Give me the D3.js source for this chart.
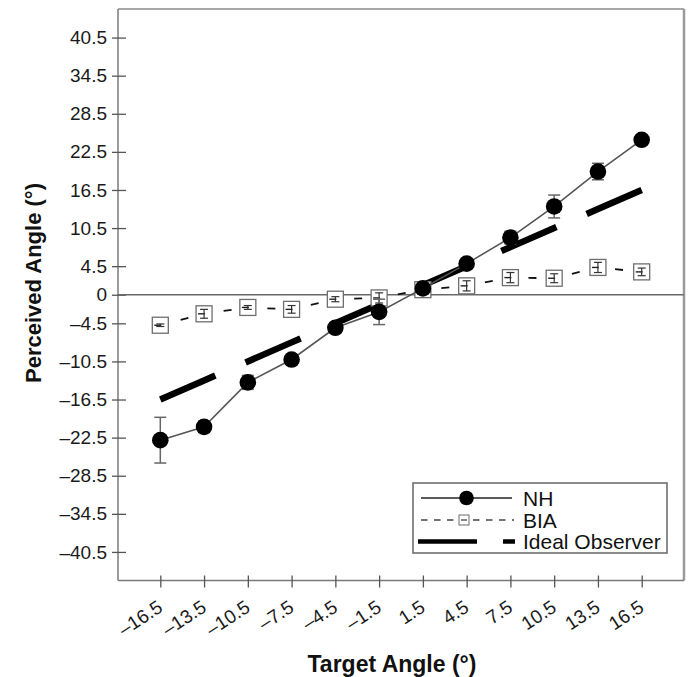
<!DOCTYPE html>
<html>
<head>
<meta charset="utf-8">
<script src="https://cdn.jsdelivr.net/npm/d3@7"></script>
<style>
  html, body { margin: 0; padding: 0; background: #fff; }
  svg { display: block; font-family: "Liberation Sans", Arial, Helvetica, sans-serif; }
  .tick text { font-family: "Liberation Sans", Arial, sans-serif; font-size: 19px; fill: #1a1a1a; }
</style>
</head>
<body>
<svg id="chart" width="690" height="677"></svg>
<script>
// Target angles (degrees) presented on each trial
const targets = [-16.5, -13.5, -10.5, -7.5, -4.5, -1.5, 1.5, 4.5, 7.5, 10.5, 13.5, 16.5];

// Normal-hearing group: mean perceived angle and error
const nhMean = [-22.9, -20.8, -13.8, -10.2, -5.2, -2.7, 1.0, 4.9, 9.0, 13.9, 19.4, 24.4];
const nhErr  = [3.6, 0.9, 1.1, 0.5, 0.5, 2.0, 0.5, 0.6, 1.0, 1.8, 1.3, 0.5];

// Bilateral implant group: mean perceived angle and error
const biaMean = [-4.8, -3.0, -2.0, -2.3, -0.7, -0.5, 0.8, 1.4, 2.7, 2.6, 4.3, 3.6];
const biaErr  = [0.2, 0.7, 0.3, 0.6, 0.4, 0.8, 0.5, 0.8, 0.8, 0.7, 0.8, 0.6];

// Ideal observer reports the target angle exactly
const idealMean = [-16.5, -13.5, -10.5, -7.5, -4.5, -1.5, 1.5, 4.5, 7.5, 10.5, 13.5, 16.5];

// Axis ticks
const xTicks = [-16.5, -13.5, -10.5, -7.5, -4.5, -1.5, 1.5, 4.5, 7.5, 10.5, 13.5, 16.5];
const yTicks = [40.5, 34.5, 28.5, 22.5, 16.5, 10.5, 4.5, 0, -4.5, -10.5, -16.5, -22.5, -28.5, -34.5, -40.5];

const legendLabels = ["NH", "BIA", "Ideal Observer"];

const fmt = v => (v < 0 ? "\u2013" + Math.abs(v) : String(v));

const svg = d3.select("#chart");
const plotL = 118, plotR = 684, plotT = 9, plotB = 580.5;

const x = d3.scaleLinear().domain([-19.4, 19.4]).range([plotL, plotR]);
const y = d3.scaleLinear().domain([-45, 45]).range([plotB, plotT]);

const axisColor = "#7a7a7a";

// Frame (top and right borders)
svg.append("line").attr("x1", plotL).attr("x2", plotR).attr("y1", plotT).attr("y2", plotT)
  .attr("stroke", "#8a8a8a").attr("stroke-width", 1.5);
svg.append("line").attr("x1", plotR).attr("x2", plotR).attr("y1", plotT).attr("y2", plotB)
  .attr("stroke", "#9a9a9a").attr("stroke-width", 2.5);

// Y axis
const gy = svg.append("g").attr("transform", `translate(${plotL},0)`)
  .call(d3.axisLeft(y).tickValues(yTicks).tickFormat(fmt).tickSizeOuter(0));
gy.select(".domain").attr("stroke", axisColor).attr("stroke-width", 1.5)
  .attr("d", `M0,${plotT}V${plotB}`);
gy.selectAll(".tick line").attr("x1", -6).attr("x2", 8).attr("stroke", "#555").attr("stroke-width", 1.3);
gy.selectAll(".tick text").attr("x", -11);

// X axis
const gx = svg.append("g").attr("transform", `translate(0,${plotB})`)
  .call(d3.axisBottom(x).tickValues(xTicks).tickFormat(fmt).tickSizeOuter(0));
gx.select(".domain").attr("stroke", axisColor).attr("stroke-width", 1.5)
  .attr("d", `M${plotL},0H${plotR}`);
gx.selectAll(".tick line").attr("y1", -5).attr("y2", 7).attr("stroke", "#555").attr("stroke-width", 1.3);
gx.selectAll(".tick text")
  .attr("y", null).attr("dy", null)
  .attr("text-anchor", "end")
  .attr("transform", "translate(3,30) rotate(-33)");

// Zero reference line
svg.append("line").attr("x1", plotL).attr("x2", plotR).attr("y1", y(0)).attr("y2", y(0))
  .attr("stroke", "#6a6a6a").attr("stroke-width", 1.3);

// Ideal observer: thick long-dash line
const line = d3.line().x(d => x(d[0])).y(d => y(d[1]));
svg.append("path")
  .attr("d", line(targets.map((t, i) => [t, idealMean[i]])))
  .attr("fill", "none").attr("stroke", "#000").attr("stroke-width", 6.5)
  .attr("stroke-dasharray", "60,33").attr("stroke-linecap", "butt");

// BIA: dashed line, error bars, open squares
svg.append("path")
  .attr("d", line(targets.map((t, i) => [t, biaMean[i]])))
  .attr("fill", "none").attr("stroke", "#111").attr("stroke-width", 1.8)
  .attr("stroke-dasharray", "8,36").attr("stroke-dashoffset", 23);

const bia = svg.append("g");
const sq = 16;
bia.selectAll("rect").data(targets).join("rect")
  .attr("x", d => x(d) - sq / 2).attr("y", (d, i) => y(biaMean[i]) - sq / 2)
  .attr("width", sq).attr("height", sq)
  .attr("fill", "#fff").attr("stroke", "#6e6e6e").attr("stroke-width", 1.3);
// centre tick of the dashed line inside each marker
bia.selectAll("line.mid").data(targets).join("line").attr("class", "mid")
  .attr("x1", d => x(d) - 6).attr("x2", d => x(d) + 1)
  .attr("y1", (d, i) => y(biaMean[i])).attr("y2", (d, i) => y(biaMean[i]))
  .attr("stroke", "#222").attr("stroke-width", 1.4);
const biaEb = bia.selectAll("g.eb").data(targets).join("g").attr("class", "eb");
biaEb.append("line")
  .attr("x1", d => x(d)).attr("x2", d => x(d))
  .attr("y1", (d, i) => y(biaMean[i] + biaErr[i])).attr("y2", (d, i) => y(biaMean[i] - biaErr[i]))
  .attr("stroke", "#333").attr("stroke-width", 1.2);
biaEb.append("line")
  .attr("x1", d => x(d) - 4).attr("x2", d => x(d) + 4)
  .attr("y1", (d, i) => y(biaMean[i] + biaErr[i])).attr("y2", (d, i) => y(biaMean[i] + biaErr[i]))
  .attr("stroke", "#333").attr("stroke-width", 1.2);
biaEb.append("line")
  .attr("x1", d => x(d) - 4).attr("x2", d => x(d) + 4)
  .attr("y1", (d, i) => y(biaMean[i] - biaErr[i])).attr("y2", (d, i) => y(biaMean[i] - biaErr[i]))
  .attr("stroke", "#333").attr("stroke-width", 1.2);

// NH: solid line, error bars, filled circles
svg.append("path")
  .attr("d", line(targets.map((t, i) => [t, nhMean[i]])))
  .attr("fill", "none").attr("stroke", "#555").attr("stroke-width", 1.6);

const nhEb = svg.append("g").selectAll("g").data(targets).join("g");
nhEb.append("line")
  .attr("x1", d => x(d)).attr("x2", d => x(d))
  .attr("y1", (d, i) => y(nhMean[i] + nhErr[i])).attr("y2", (d, i) => y(nhMean[i] - nhErr[i]))
  .attr("stroke", "#666").attr("stroke-width", 1.5);
[1, -1].forEach(s => {
  nhEb.append("line")
    .attr("x1", d => x(d) - 6).attr("x2", d => x(d) + 6)
    .attr("y1", (d, i) => y(nhMean[i] + s * nhErr[i])).attr("y2", (d, i) => y(nhMean[i] + s * nhErr[i]))
    .attr("stroke", "#666").attr("stroke-width", 1.5);
});
svg.append("g").selectAll("circle").data(targets).join("circle")
  .attr("cx", d => x(d)).attr("cy", (d, i) => y(nhMean[i])).attr("r", 8.3)
  .attr("fill", "#000");

// Legend
const lg = svg.append("g");
lg.append("rect").attr("x", 413).attr("y", 483).attr("width", 254).attr("height", 70)
  .attr("fill", "#fff").attr("stroke", "#666").attr("stroke-width", 1.5);
const rows = [498, 520, 541.5];
// NH sample
lg.append("line").attr("x1", 421).attr("x2", 512).attr("y1", rows[0]).attr("y2", rows[0])
  .attr("stroke", "#222").attr("stroke-width", 1.5);
lg.append("circle").attr("cx", 466.5).attr("cy", rows[0]).attr("r", 7.3).attr("fill", "#000");
// BIA sample
lg.append("line").attr("x1", 421).attr("x2", 514).attr("y1", rows[1]).attr("y2", rows[1])
  .attr("stroke", "#444").attr("stroke-width", 1.3).attr("stroke-dasharray", "6.5,6.5");
lg.append("rect").attr("x", 459).attr("y", rows[1] - 5).attr("width", 10).attr("height", 10)
  .attr("fill", "#fff").attr("stroke", "#777").attr("stroke-width", 1.1);
lg.append("line").attr("x1", 461).attr("x2", 467).attr("y1", rows[1]).attr("y2", rows[1])
  .attr("stroke", "#333").attr("stroke-width", 1.2);
// Ideal observer sample
lg.append("line").attr("x1", 418).attr("x2", 515).attr("y1", rows[2]).attr("y2", rows[2])
  .attr("stroke", "#000").attr("stroke-width", 4.5).attr("stroke-dasharray", "59,26");
lg.selectAll("text").data(legendLabels).join("text")
  .attr("x", 523).attr("y", (d, i) => rows[i]).attr("dy", "0.36em")
  .style("font-size", "21px").attr("fill", "#111").text(d => d);

// Axis titles
svg.append("text").attr("x", 392).attr("y", 672).attr("text-anchor", "middle")
  .style("font-size", "23px").attr("font-weight", "bold").attr("fill", "#111")
  .text("Target Angle (°)");
svg.append("text").attr("transform", "translate(41,283) rotate(-90)").attr("text-anchor", "middle")
  .style("font-size", "22px").attr("font-weight", "bold").attr("fill", "#111")
  .text("Perceived Angle (°)");
</script>
</body>
</html>
